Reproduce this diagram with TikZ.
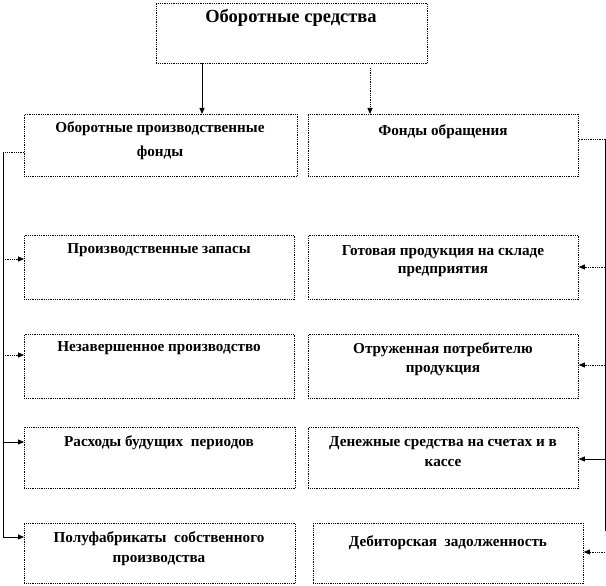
\documentclass[tikz,border=0pt]{standalone}
\usepackage{fontspec}
\setmainfont{Liberation Serif}
\usetikzlibrary{arrows.meta}
\tikzset{
  box/.style={draw, densely dotted, line width=0.8pt, rectangle, inner sep=0pt, anchor=north west},
  txt/.style={anchor=north, inner sep=0pt, align=center, font=\bfseries\fontsize{15.2}{19}\selectfont},
  conn/.style={line width=0.8pt},
  connD/.style={line width=0.8pt, densely dotted},
  arr/.style={conn, -{Triangle[length=6pt,width=5pt]}},
  arrD/.style={connD, -{Triangle[length=6pt,width=5pt]}}
}
\begin{document}
\begin{tikzpicture}[x=1pt,y=-1pt]
\useasboundingbox (0,0) rectangle (606,586);
% boxes
\node[box, minimum width=271pt, minimum height=60pt] (top) at (156,3) {};
\node[box, minimum width=273pt, minimum height=62pt] (L2) at (24,114) {};
\node[box, minimum width=270pt, minimum height=62pt] (R2) at (308,114) {};
\node[box, minimum width=270pt, minimum height=64pt] (L3) at (24,235) {};
\node[box, minimum width=270pt, minimum height=64pt] (R3) at (308,235) {};
\node[box, minimum width=270pt, minimum height=64pt] (L4) at (24,334) {};
\node[box, minimum width=270pt, minimum height=64pt] (R4) at (308,334) {};
\node[box, minimum width=271pt, minimum height=61pt] (L5) at (24,427) {};
\node[box, minimum width=270pt, minimum height=61pt] (R5) at (308,427) {};
\node[box, minimum width=271pt, minimum height=60pt] (L6) at (24,523) {};
\node[box, minimum width=270pt, minimum height=60pt] (R6) at (313,523) {};
% texts
\node[txt, font=\bfseries\fontsize{18.5}{22}\selectfont] (ttop) at (291,9) {Оборотные средства};
\node[txt, font=\bfseries\fontsize{15.2}{24}\selectfont] (tL2) at (160,121) {Оборотные производственные\\фонды};
\node[txt] (tR2) at (443,124) {Фонды обращения};
\node[txt] (tL3) at (159,243) {Производственные запасы};
\node[txt, font=\bfseries\fontsize{15.2}{18}\selectfont] (tR3) at (443,245) {Готовая продукция на складе\\предприятия};
\node[txt] (tL4) at (159,341) {Незавершенное производство};
\node[txt] (tR4) at (443,342) {Отруженная потребителю\\продукция};
\node[txt] (tL5) at (159,435) {Расходы будущих\ \ периодов};
\node[txt, font=\bfseries\fontsize{15.2}{20}\selectfont] (tR5) at (443,436) {Денежные средства на счетах и в\\кассе};
\node[txt, font=\bfseries\fontsize{15.2}{20}\selectfont] (tL6) at (159,531) {Полуфабрикаты\ \ собственного\\производства};
\node[txt] (tR6) at (448,535) {Дебиторская\ \ задолженность};
% top arrows
\coordinate (aL) at (202,63);
\coordinate (aR) at (370,68);
\draw[arr] (aL) -- (aL |- L2.north);
\draw[arrD] (aR) -- (aR |- R2.north);
% left bus
\coordinate (bL2) at (3,152);
\coordinate (bL3) at (3,259);
\coordinate (bL4) at (3,355);
\coordinate (bL5) at (3,442);
\coordinate (bL6) at (3,537);
\draw[conn] (bL2) -- (bL6);
\draw[connD] (bL2 -| L2.west) -- (bL2);
\draw[arrD] (bL3) -- (bL3 -| L3.west);
\draw[arrD] (bL4) -- (bL4 -| L4.west);
\draw[arr] (bL5) -- (bL5 -| L5.west);
\draw[arr] (bL6) -- (bL6 -| L6.west);
% right bus
\coordinate (bR2) at (605,139);
\coordinate (bR3) at (605,267);
\coordinate (bR4) at (605,365);
\coordinate (bR5) at (605,459);
\coordinate (bRe) at (605,531);
\coordinate (bR6) at (605,552);
\draw[conn] (bR2) -- (bRe);
\draw[connD] (bR2 -| R2.east) -- (bR2);
\draw[arrD] (bR3) -- (bR3 -| R3.east);
\draw[arrD] (bR4) -- (bR4 -| R4.east);
\draw[arr] (bR5) -- (bR5 -| R5.east);
\draw[arrD] (bR6) -- (bR6 -| R6.east);
\end{tikzpicture}
\end{document}
